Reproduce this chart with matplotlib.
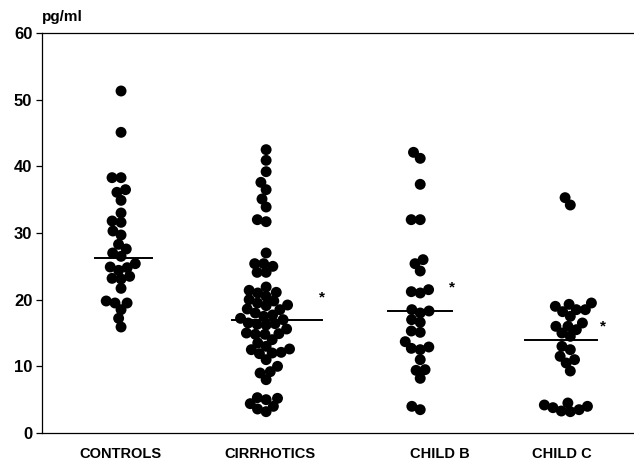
import numpy as np
import matplotlib
matplotlib.use("Agg")
import matplotlib.pyplot as plt

plt.rcParams['font.family'] = ['Liberation Sans', 'DejaVu Sans']

categories = ["CONTROLS", "CIRRHOTICS", "CHILD B", "CHILD C"]

controls = [51.3, 45.1, 38.3, 38.3, 36.5, 36.1, 34.9, 33.0, 31.8, 31.6, 30.3, 29.7,
            28.3, 27.6, 27.0, 26.5, 25.4, 24.8, 24.9, 24.4, 23.5, 23.1, 23.2, 21.7,
            19.5, 19.8, 19.5, 18.5, 17.2, 15.9]
cirrhotics = [42.5, 40.9, 39.2, 37.6, 36.5, 35.1, 33.9, 32.0, 31.7, 27.0, 25.0, 25.4,
              25.4, 24.1, 24.1, 21.9, 21.4, 21.1, 21.0, 20.5, 20.0, 19.8, 19.5, 19.2,
              19.1, 18.6, 18.5, 18.0, 17.7, 17.5, 17.2, 17.0, 16.5, 16.4, 16.3, 16.2,
              15.6, 15.0, 14.9, 14.8, 14.8, 14.0, 13.5, 13.0, 12.6, 12.5, 12.1, 12.0,
              11.9, 11.0, 10.0, 9.2, 9.0, 8.0, 5.3, 5.2, 5.0, 4.4, 4.0, 3.6, 3.2]
child_b = [42.1, 41.2, 37.3, 32.0, 32.0, 26.0, 25.4, 24.3, 21.5, 21.2, 21.0, 18.5,
           18.3, 18.0, 17.0, 16.6, 15.3, 15.1, 13.7, 12.9, 12.7, 12.5, 11.0, 9.5,
           9.4, 8.2, 4.0, 3.5]
child_c = [35.3, 34.2, 19.5, 19.3, 19.0, 18.5, 18.5, 18.2, 17.5, 16.5, 16.0, 16.0,
           15.5, 15.0, 14.5, 13.0, 12.5, 11.5, 11.0, 10.5, 9.3, 4.5, 4.2, 4.0, 3.8,
           3.5, 3.3, 3.2]
groups = [controls, cirrhotics, child_b, child_c]
mean_lines = [26.3, 16.9, 18.3, 13.9]
significant = [False, True, True, True]
star_values = [None, 20.3, 21.9, 16.0]

y_ticks = [0, 10, 20, 30, 40, 50, 60]
y_unit = "pg/ml"

# layout (pixel-like x coordinates)
W, H = 634, 463
group_centers = [121, 266, 420, 570]
label_centers = [120, 270, 440, 562]
line_spans = [(95, 152), (232, 322), (388, 452), (525, 597)]
star_x = [None, 322, 452, 603]
px_per_unit = 400 / 60.0
dot_d = 9.0


def swarm(vals, d):
    ys = np.asarray(vals, float) * px_per_unit
    order = np.argsort(ys)
    placed = []
    xs = np.zeros(len(ys))
    for i in order:
        y = ys[i]
        cands = [0.0]
        for px, py in placed:
            dy = abs(py - y)
            if dy < d:
                dx = np.sqrt(d * d - dy * dy)
                cands += [px + dx, px - dx]
        cands = sorted(cands, key=lambda c: (abs(c), c))
        for c in cands:
            if all((c - px) ** 2 + (y - py) ** 2 >= d * d - 1e-6 for px, py in placed):
                xs[i] = c
                break
        placed.append((xs[i], y))
    return xs


fig = plt.figure(figsize=(W / 100, H / 100), dpi=100)
ax = fig.add_axes([42 / W, 30 / H, 1 - 42 / W + 0.01, 400 / H])
ax.set_xlim(42, W + 6)
ax.set_ylim(0, 60)

for g, vals in enumerate(groups):
    offs = swarm(vals, dot_d)
    ax.scatter(group_centers[g] + offs, vals, s=62, color='black', edgecolors='none',
               zorder=3, clip_on=False)
    x0, x1 = line_spans[g]
    ax.plot([x0, x1], [mean_lines[g]] * 2, color='black', lw=1.4, zorder=2)
    if significant[g]:
        ax.text(star_x[g], star_values[g], "*", ha='center', va='center', fontsize=11,
                fontweight='bold')

for side in ['right']:
    ax.spines[side].set_visible(False)
for side in ['left', 'top', 'bottom']:
    ax.spines[side].set_linewidth(0.9)

ax.set_yticks(y_ticks)
ax.set_yticklabels([str(t) for t in y_ticks], fontsize=12, fontweight='bold')
ax.tick_params(axis='y', length=4, width=0.9, pad=3, direction='out')
ax.set_xticks(label_centers)
ax.set_xticklabels(categories, fontsize=10.5, fontweight='bold')
ax.tick_params(axis='x', length=0, pad=10)

fig.text(42 / W, 1 - 17 / H, y_unit, ha='left', va='center', fontsize=11,
         fontweight='bold')

fig.savefig("out.png", dpi=100)
